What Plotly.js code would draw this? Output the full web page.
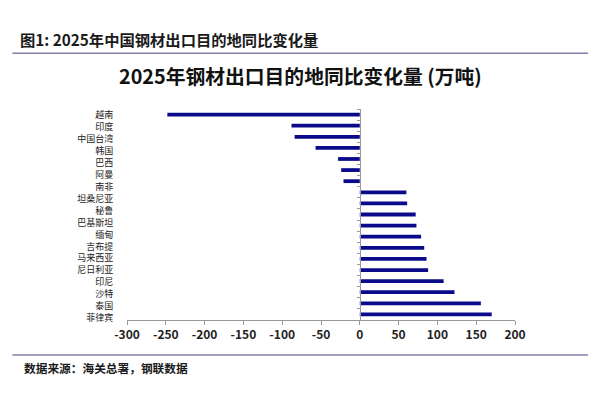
<!DOCTYPE html>
<html>
<head>
<meta charset="utf-8">
<script src="https://cdn.plot.ly/plotly-3.0.1.min.js"></script>
<style>
html,body{margin:0;padding:0;background:#fff;}
#chart{width:600px;height:400px;}
</style>
</head>
<body>
<div id="chart"></div>
<script>
// Category labels as printed on the left of the chart (top to bottom)
var labels = ["越南","印度","中国台湾","韩国","巴西","阿曼","南非","坦桑尼亚","秘鲁","巴基斯坦","缅甸","吉布提","马来西亚","尼日利亚","印尼","沙特","泰国","菲律宾"];
// Bar values (万吨), top to bottom, as drawn (19 bars)
var values = [-248, -88, -84, -57, -28, -24, -21, 60, 61, 72, 73, 79, 83, 86, 88, 108, 122, 156, 170];
// X tick settings
var xRange = [-300, 200];
var xStep = 50;

var headerText = "图1: 2025年中国钢材出口目的地同比变化量";
var titleText = "2025年钢材出口目的地同比变化量 (万吨)";
var sourceText = "数据来源：海关总署，钢联数据";

// plot area in pixels
var L = 126.7, R = 515, T = 109, B = 324;
var W = R - L, H = B - T;
function px(x){ return (x - L) / W; }
function py(y){ return (B - y) / H; }

var FONT = "Noto Sans CJK SC, Noto Sans, sans-serif";

var barIdx = values.map(function(v, i){ return i; });
var labelIdx = labels.map(function(l, i){ return i; });

var bars = {
  type: "bar",
  orientation: "h",
  x: values,
  y: barIdx,
  yaxis: "y2",
  width: 0.34,
  marker: {color: "#0a0a8a", line: {width: 0}},
  hoverinfo: "x"
};
// carrier trace for the label axis (no visible marks)
var labelCarrier = {
  type: "scatter",
  mode: "markers",
  x: labels.map(function(){ return null; }),
  y: labelIdx,
  yaxis: "y",
  xaxis: "x",
  marker: {opacity: 0},
  hoverinfo: "skip"
};

var boundaries = [];
for (var i = -1; i < values.length; i++) boundaries.push(i + 0.5);
var xTicks = [];
for (var v = xRange[0]; v <= xRange[1]; v += xStep) xTicks.push(v);

var layout = {
  width: 600, height: 400,
  margin: {l: L, r: 600 - R, t: T, b: 400 - B},
  paper_bgcolor: "#fff", plot_bgcolor: "#fff",
  showlegend: false,
  font: {family: FONT, color: "#222"},
  xaxis: {
    range: xRange,
    anchor: "y2",
    tickmode: "array",
    tickvals: xTicks,
    ticktext: xTicks.map(function(t){ return String(t); }),
    showgrid: false, zeroline: false,
    showline: true, linecolor: "#9a9a9a", linewidth: 1,
    ticks: "outside", ticklen: 4, tickcolor: "#9a9a9a",
    tickfont: {family: FONT, size: 12, color: "#222", weight: "bold"},
    fixedrange: true
  },
  yaxis: {
    domain: [0, 1],
    anchor: "x",
    range: [labels.length - 0.5, -0.5],
    tickmode: "array",
    tickvals: labelIdx,
    ticktext: labels,
    showgrid: false, zeroline: false, showline: false,
    ticks: "outside", ticklen: 11, tickcolor: "rgba(0,0,0,0)",
    tickfont: {family: FONT, size: 9, color: "#222"},
    fixedrange: true
  },
  yaxis2: {
    domain: [py(320), 1],
    anchor: "free",
    position: (0 - xRange[0]) / (xRange[1] - xRange[0]),
    range: [values.length - 0.5, -0.5],
    tickmode: "array",
    tickvals: boundaries,
    showticklabels: false,
    showgrid: false, zeroline: false,
    showline: true, linecolor: "#9a9a9a", linewidth: 1,
    ticks: "outside", ticklen: 3, tickcolor: "#9a9a9a",
    fixedrange: true
  },
  shapes: [
    {type: "line", xref: "paper", yref: "paper", x0: px(12), x1: px(588), y0: py(53.3), y1: py(53.3),
     line: {color: "#8080ac", width: 1.5}},
    {type: "line", xref: "paper", yref: "paper", x0: px(12), x1: px(588), y0: py(355), y1: py(355),
     line: {color: "#8080ac", width: 1.5}}
  ],
  annotations: [
    {xref: "paper", yref: "paper", x: px(18), y: py(38.5), xanchor: "left", yanchor: "middle",
     text: "<b>" + headerText + "</b>", showarrow: false,
     font: {family: FONT, size: 15.3, color: "#1a1a1a"}},
    {xref: "paper", yref: "paper", x: px(300), y: py(75), xanchor: "center", yanchor: "middle",
     text: "<b>" + titleText + "</b>", showarrow: false,
     font: {family: FONT, size: 19.8, color: "#111"}},
    {xref: "paper", yref: "paper", x: px(22), y: py(367.5), xanchor: "left", yanchor: "middle",
     text: "<b>" + sourceText + "</b>", showarrow: false,
     font: {family: FONT, size: 11.7, color: "#1a1a1a"}}
  ]
};

Plotly.newPlot("chart", [bars, labelCarrier], layout, {displayModeBar: false, staticPlot: true});
</script>
</body>
</html>
